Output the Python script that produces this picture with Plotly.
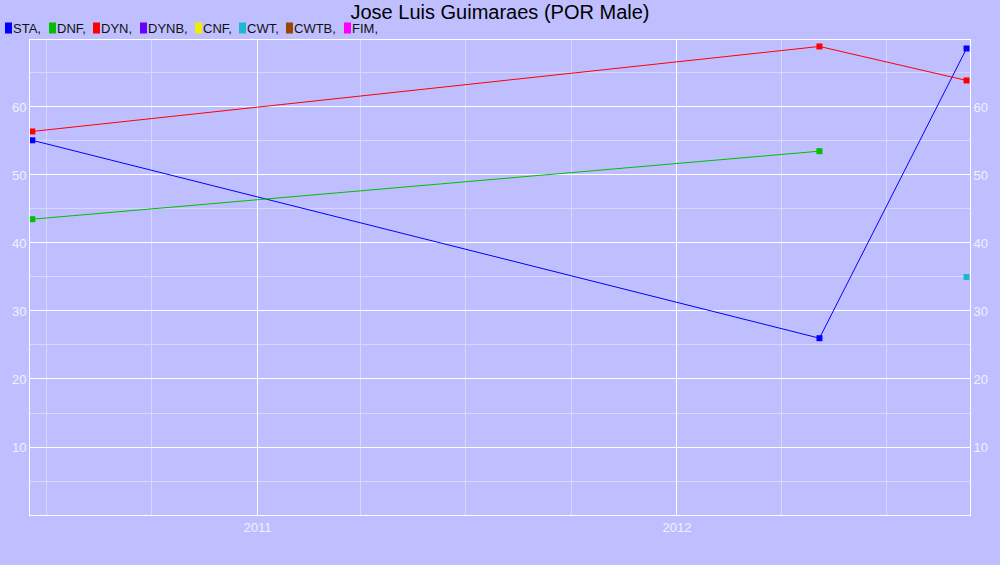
import plotly.graph_objects as go

title = "Jose Luis Guimaraes (POR Male)"
legend_names = ["STA", "DNF", "DYN", "DYNB", "CNF", "CWT", "CWTB", "FIM"]
legend_colors = ["#0000FF", "#00C000", "#FF0000", "#6600FF", "#EEEE00", "#1CB8D0", "#994400", "#FF00FF"]
legend_px = [5, 49, 93, 140, 195, 239, 286, 344]  # legend item left positions (layout)

sta_dates = ["2010-06-19", "2012-05-04", "2012-09-09"]
sta_vals = [55.1, 26.0, 68.6]
dnf_dates = ["2010-06-19", "2012-05-04"]
dnf_vals = [43.5, 53.5]
dyn_dates = ["2010-06-19", "2012-05-04", "2012-09-09"]
dyn_vals = [56.4, 68.9, 63.9]
cwt_dates = ["2012-09-09"]
cwt_vals = [35.0]

y_ticks = [10, 20, 30, 40, 50, 60]
x_range = ["2010-06-17", "2012-09-12"]
y_range = [0, 69.85]

bg = "#BFBFFF"
tick_col = "#F0F0FF"

W, H = 1000, 565
ML, MR, MT, MB = 30, 30, 40, 50
PW, PH = W - ML - MR, H - MT - MB


def px_x(px):
    return (px - ML) / PW


def px_y(py):
    return (H - MB - py) / PH


fig = go.Figure()
series = [
    ("STA", sta_dates, sta_vals, legend_colors[0], "lines+markers"),
    ("DNF", dnf_dates, dnf_vals, legend_colors[1], "lines+markers"),
    ("DYN", dyn_dates, dyn_vals, legend_colors[2], "lines+markers"),
    ("CWT", cwt_dates, cwt_vals, legend_colors[5], "markers"),
]
for name, xs, ys, col, mode in series:
    fig.add_trace(go.Scatter(
        x=xs, y=ys, name=name, mode=mode,
        line=dict(color=col, width=1),
        marker=dict(color=col, size=6, symbol="square", line=dict(width=0)),
        showlegend=False,
    ))
# dummy trace to show right axis
fig.add_trace(go.Scatter(x=[], y=[], yaxis="y2", showlegend=False))

shapes = []
annotations = []
for name, col, lx in zip(legend_names, legend_colors, legend_px):
    shapes.append(dict(type="rect", xref="paper", yref="paper",
                       x0=px_x(lx), x1=px_x(lx + 7), y0=px_y(33.5), y1=px_y(22.5),
                       fillcolor=col, line=dict(width=0)))
    annotations.append(dict(text=f"{name},", xref="paper", yref="paper",
                            x=px_x(lx + 7.5), y=px_y(28.5), xanchor="left", yanchor="middle",
                            showarrow=False, borderpad=0, borderwidth=0,
                            font=dict(size=13, color="#111111", family="Liberation Sans, Arial")))

fig.update_layout(
    width=W, height=H,
    paper_bgcolor=bg, plot_bgcolor=bg,
    margin=dict(l=ML, r=MR, t=MT, b=MB),
    font=dict(family="Liberation Sans, Arial", size=13, color=tick_col),
    title=dict(text=title, x=0.5, xanchor="center", y=0.979, yanchor="middle",
               font=dict(size=20, color="black", family="Liberation Sans, Arial")),
    xaxis=dict(
        type="date", range=x_range,
        dtick="M12", tick0="2011-01-01", tickformat="%Y",
        showgrid=True, gridcolor="#FFFFFF", gridwidth=1,
        minor=dict(dtick="M3", tick0="2011-01-01", showgrid=True, gridcolor="#D8D8FF", gridwidth=1),
        showline=True, linecolor="#FFFFFF", linewidth=1, mirror=True,
        ticks="", zeroline=False,
        tickfont=dict(color=tick_col, size=13),
    ),
    yaxis=dict(
        range=y_range, tickvals=y_ticks,
        showgrid=True, gridcolor="#FFFFFF", gridwidth=1,
        minor=dict(dtick=5, tick0=0, showgrid=True, gridcolor="#D8D8FF", gridwidth=1),
        showline=True, linecolor="#FFFFFF", linewidth=1,
        ticks="", zeroline=False,
        tickfont=dict(color=tick_col, size=13),
    ),
    yaxis2=dict(
        range=y_range, tickvals=y_ticks, overlaying="y", side="right",
        showgrid=False, showline=True, linecolor="#FFFFFF", linewidth=1,
        ticks="", zeroline=False,
        tickfont=dict(color=tick_col, size=13),
    ),
    shapes=shapes,
    annotations=annotations,
)

fig.write_html("out.html", config={"displayModeBar": False},
               post_script="document.body.style.margin='0';document.body.style.overflow='hidden';")
